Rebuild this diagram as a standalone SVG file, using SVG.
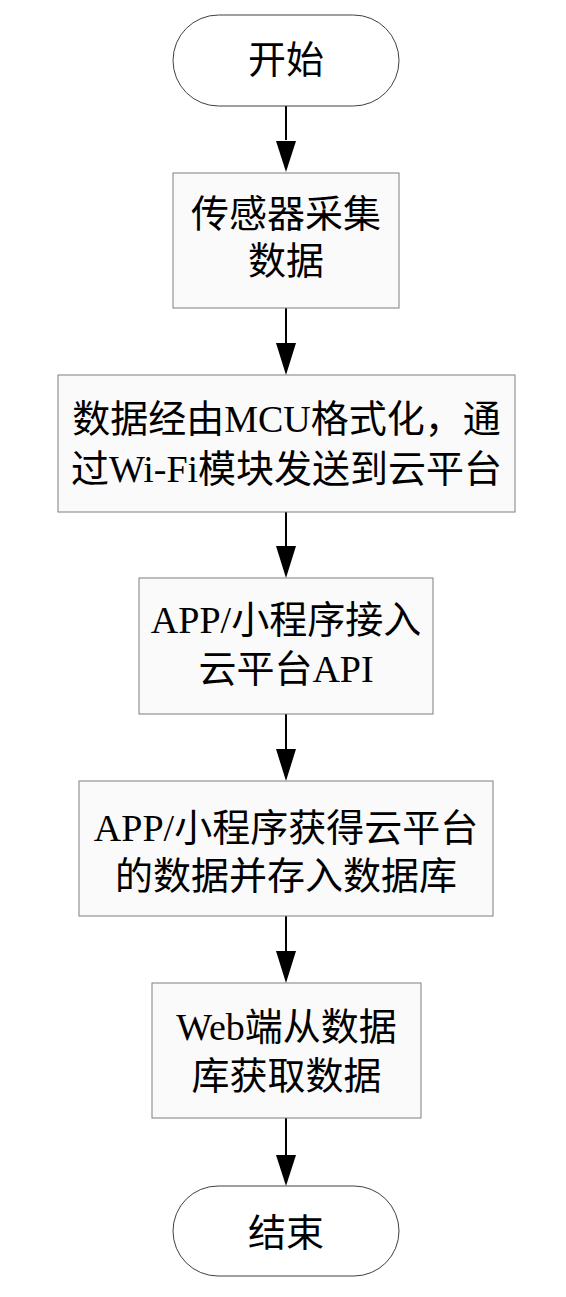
<svg xmlns="http://www.w3.org/2000/svg" width="566" height="1297" viewBox="0 0 566 1297">
<style>
.box{fill:#fafafa;stroke:#7f7f7f;stroke-width:1}
.term{fill:#ffffff;stroke:#404040;stroke-width:1}
.t{font-family:"Liberation Serif","Noto Sans CJK SC",serif;font-size:38px;fill:#000;text-anchor:middle}
.c{stroke:#000;stroke-width:2;fill:none}
</style>
<defs>
<marker id="ah" markerUnits="userSpaceOnUse" markerWidth="22" markerHeight="32" refX="20" refY="10" orient="auto">
<path d="M0,0 L20,10 L0,20 Z" fill="#000"/>
</marker>
</defs>
<rect width="566" height="1297" fill="#fff"/>
<g id="connectors">
<path class="c" d="M286,106 V140" />
<path d="M276,141 L296,141 L286,172 Z" fill="#000"/>
<path class="c" d="M286,308 V343" />
<path d="M276,343 L296,343 L286,375 Z" fill="#000"/>
<path class="c" d="M286,512 V546" />
<path d="M276,546 L296,546 L286,578 Z" fill="#000"/>
<path class="c" d="M286,714 V749" />
<path d="M276,749 L296,749 L286,781 Z" fill="#000"/>
<path class="c" d="M286,916 V951" />
<path d="M276,951 L296,951 L286,983 Z" fill="#000"/>
<path class="c" d="M286,1118 V1155" />
<path d="M276,1155 L296,1155 L286,1186 Z" fill="#000"/>
</g>
<g id="start">
<rect class="term" x="173" y="15" width="226" height="91" rx="45.5"/>
<text class="t" x="286" y="73">开始</text>
</g>
<g id="n1">
<rect class="box" x="173" y="173" width="226" height="135"/>
<text class="t" x="286" y="227">传感器采集</text>
<text class="t" x="286" y="274">数据</text>
</g>
<g id="n2">
<rect class="box" x="58" y="375" width="457" height="137"/>
<text class="t" x="286.5" y="432">数据经由MCU格式化，通</text>
<text class="t" x="286.5" y="482">过Wi-Fi模块发送到云平台</text>
</g>
<g id="n3">
<rect class="box" x="139" y="578" width="294" height="136"/>
<text class="t" x="286" y="633">APP/小程序接入</text>
<text class="t" x="286" y="682">云平台API</text>
</g>
<g id="n4">
<rect class="box" x="79" y="781" width="414" height="135"/>
<text class="t" x="286" y="841">APP/小程序获得云平台</text>
<text class="t" x="286" y="889">的数据并存入数据库</text>
</g>
<g id="n5">
<rect class="box" x="152" y="983" width="269" height="135"/>
<text class="t" x="286.5" y="1040">Web端从数据</text>
<text class="t" x="286.5" y="1089">库获取数据</text>
</g>
<g id="end">
<rect class="term" x="173" y="1186" width="226" height="90" rx="45"/>
<text class="t" x="286" y="1246">结束</text>
</g>
</svg>
